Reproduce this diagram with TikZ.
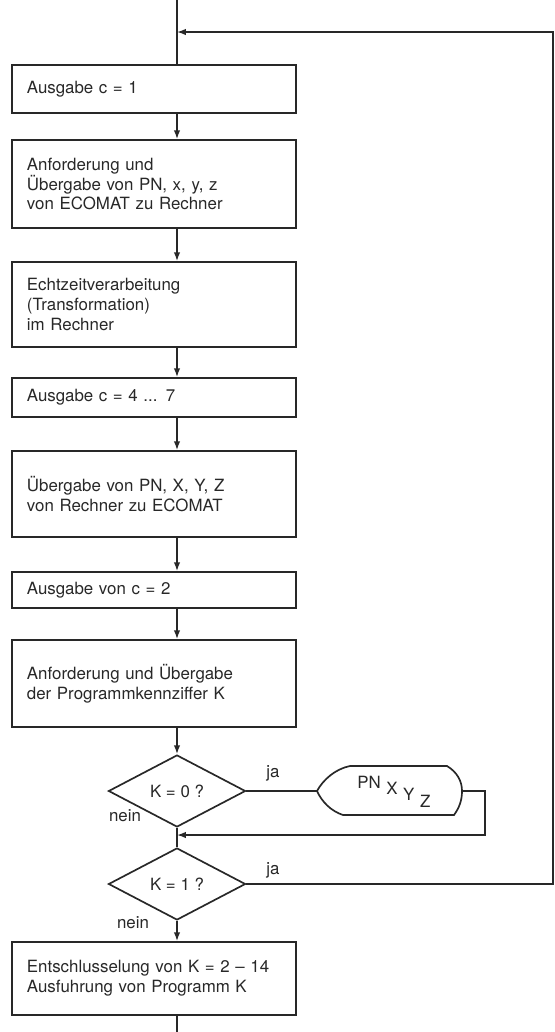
\documentclass[tikz,border=0pt]{standalone}
\usepackage{fontspec}
\setmainfont{TeX Gyre Heros}
\usetikzlibrary{shapes.geometric,arrows.meta}
\definecolor{ink}{RGB}{40,40,40}

\begin{document}
\begin{tikzpicture}[x=0.025cm,y=-0.025cm,>={Latex[length=2.2mm,width=1.6mm]}]
	\tikzstyle{every node}=[font=\fontsize{12pt}{14.2pt}\selectfont, text=ink]
	\tikzstyle{stepbox}=[draw=ink, line width=1.2pt, minimum width=7.1cm, text width=6.35cm, inner xsep=0.375cm, inner ysep=0pt, align=left]
	\tikzstyle{query}=[draw=ink, line width=1.2pt, diamond, minimum width=3.425cm, minimum height=1.8cm, inner sep=0pt]
	\tikzstyle{flow}=[draw=ink, line width=1pt]
	
	\useasboundingbox (0,0) rectangle (554,1032);
	
	\coordinate (top) at (177,0);
	\coordinate (bottom) at (177,1032);
	\coordinate (back) at (553,32);
	\coordinate (join) at (177,835);
	\coordinate (loopr) at (485,835);
	
	\node[stepbox, minimum height=1.2cm] (b1) at (154,89) {Ausgabe c = 1};
	\node[stepbox, minimum height=2.2cm] (b2) at (154,184) {Anforderung und\\Übergabe von PN, x, y, z\\von ECOMAT zu Rechner};
	\node[stepbox, minimum height=2.125cm] (b3) at (154,304.5) {Echtzeitverarbeitung\\(Transformation)\\im Rechner};
	\node[stepbox, minimum height=0.975cm] (b4) at (154,397.5) {Ausgabe c = 4 ... 7};
	\node[stepbox, minimum height=2.15cm] (b5) at (154,494) {Übergabe von PN, X, Y, Z\\von Rechner zu ECOMAT};
	\node[stepbox, minimum height=0.9cm] (b6) at (154,590) {Ausgabe von c = 2};
	\node[stepbox, minimum height=2.175cm] (b7) at (154,683.5) {Anforderung und Übergabe\\der Programmkennziffer K};
	\node[query] (q0) at (177,791) {K = 0 ?};
	\node[query] (q1) at (177,884) {K = 1 ?};
	\node[stepbox, minimum height=1.825cm] (b8) at (154,978.5) {Entschlusselung von K = 2 -- 14\\Ausfuhrung von Programm K};
	
	\coordinate (pnl) at (317,791);
	\coordinate (pnr) at (462,791);
	\draw[draw=ink, line width=1.2pt] (350,766) -- (447,766) .. controls (457,772) and (462,781) .. (pnr) .. controls (462,801) and (459,808) .. (454,815) -- (343,815) .. controls (331,811) and (322,802) .. (pnl) .. controls (323,780) and (335,769) .. (350,766) -- cycle;
	\node[anchor=base west, inner sep=0pt] (pn) at (357,788) {PN\hspace{4pt}\raisebox{-4.3pt}{X}\hspace{4pt}\raisebox{-9.2pt}{Y}\hspace{4pt}\raisebox{-14.2pt}{Z}};
	
	\node (ja0) at (273,773) {ja};
	\node (nein0) at (125,816) {nein};
	\node (ja1) at (273,870) {ja};
	\node (nein1) at (133,923) {nein};
	
	\draw[flow] (top) -- (b1.north -| top);
	\foreach \a/\b in {b1/b2,b2/b3,b3/b4,b4/b5,b5/b6,b6/b7,b7/q0}
		\draw[flow,->] (\a.south -| top) -- (\b.north -| top);
	\draw[flow] (q0.south) -- (q1.north);
	\draw[flow,->] (q1.south) -- (b8.north -| top);
	\draw[flow] (b8.south -| top) -- (bottom);
	
	\draw[flow] (q0.east) -- (pnl);
	\draw[flow,->] (pnr) -- (pnr -| loopr) -- (loopr) -- (join);
	\draw[flow,->] (q1.east) -- (q1.east -| back) -- (back) -- (back -| top);
	
\end{tikzpicture}
\end{document}
